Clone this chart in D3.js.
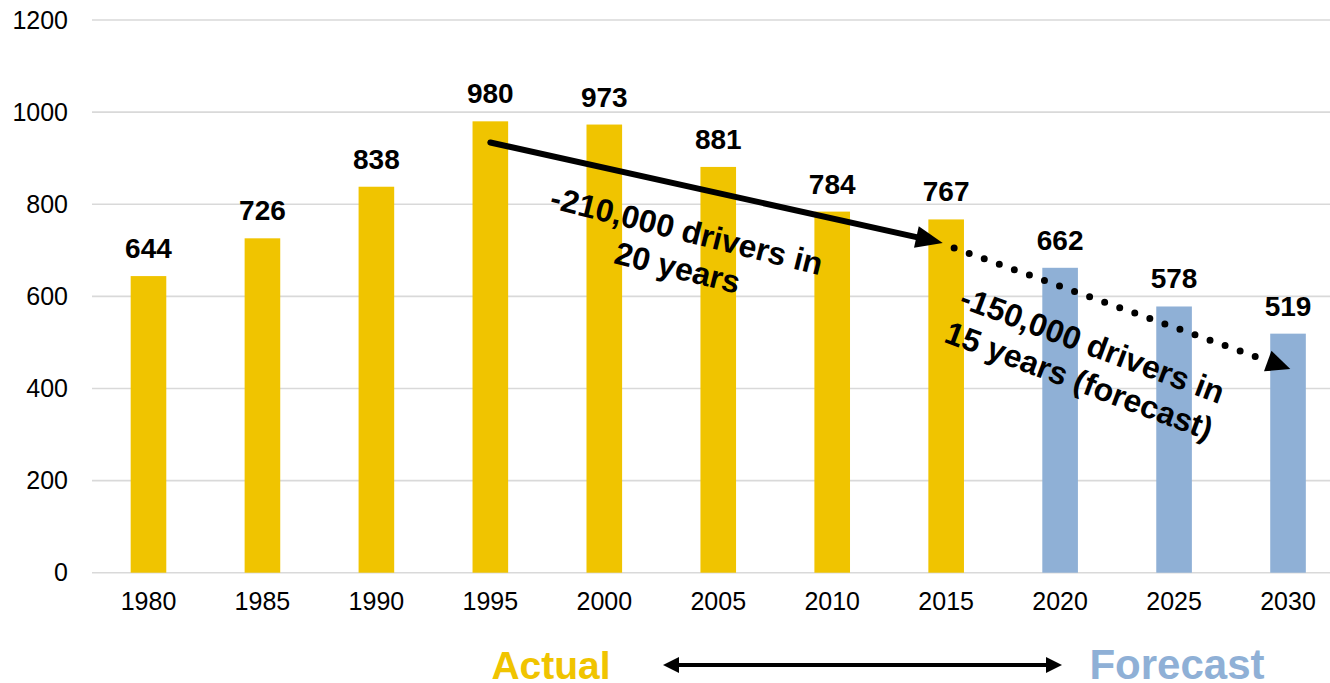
<!DOCTYPE html>
<html>
<head>
<meta charset="utf-8">
<script src="https://cdn.jsdelivr.net/npm/d3@7"></script>
<style>
  html, body { margin: 0; padding: 0; background: #fff; }
  svg { display: block; }
  text { font-family: "Liberation Sans", Arial, sans-serif; }
</style>
</head>
<body>
<svg id="chart" width="1330" height="683"></svg>
<script>
// Licensed truck drivers (thousands), actual and forecast
const years    = ["1980", "1985", "1990", "1995", "2000", "2005", "2010", "2015", "2020", "2025", "2030"];
const drivers  = [644, 726, 838, 980, 973, 881, 784, 767, 662, 578, 519];
const isForecast = [false, false, false, false, false, false, false, false, true, true, true];
const yTicks   = [0, 200, 400, 600, 800, 1000, 1200];

// Trend annotations: [year, value] endpoints
const actualTrend   = [[1995.0, 934], [2014.85, 716]];
const forecastTrend = [[2015.35, 705], [2030.1, 442]];
const actualNote    = ["-210,000 drivers in", "20 years"];
const forecastNote  = ["-150,000 drivers in", "15 years (forecast)"];

const COLOR_ACTUAL = "#F0C400";
const COLOR_FORECAST = "#8FB0D6";

const svg = d3.select("#chart");

const x = d3.scaleBand().domain(years).range([91.5, 1345]).paddingInner(0.6875).paddingOuter(0.34375);
const y = d3.scaleLinear().domain([0, 1200]).range([572.7, 20]);
const yearX = d3.scaleLinear()
  .domain([+years[0], +years[years.length - 1]])
  .range([x(years[0]) + x.bandwidth() / 2, x(years[years.length - 1]) + x.bandwidth() / 2]);

// Gridlines (including the baseline)
svg.append("g").selectAll("line").data(yTicks).join("line")
  .attr("x1", 92).attr("x2", 1345)
  .attr("y1", d => y(d)).attr("y2", d => y(d))
  .attr("stroke", "#d9d9d9").attr("stroke-width", 1.6);

// Y axis labels
const yAxis = d3.axisLeft(y).tickValues(yTicks).tickFormat(d3.format("d")).tickSize(0).tickPadding(0);
svg.append("g").attr("transform", "translate(68,0)").call(yAxis)
  .call(g => g.select(".domain").remove())
  .selectAll("text")
  .attr("font-size", 25).attr("fill", "#000")
  .attr("font-family", "Liberation Sans, Arial, sans-serif");

// X axis labels
const xAxis = d3.axisBottom(x).tickSize(0).tickPadding(0);
svg.append("g").attr("transform", "translate(0,592)").call(xAxis)
  .call(g => g.select(".domain").remove())
  .selectAll("text")
  .attr("font-size", 25).attr("fill", "#000").attr("dy", "0.71em")
  .attr("font-family", "Liberation Sans, Arial, sans-serif");

// Bars
const rows = years.map((yr, i) => ({ yr, v: drivers[i], f: isForecast[i] }));
svg.append("g").selectAll("rect").data(rows).join("rect")
  .attr("x", d => x(d.yr)).attr("width", x.bandwidth())
  .attr("y", d => y(d.v)).attr("height", d => y(0) - y(d.v))
  .attr("fill", d => d.f ? COLOR_FORECAST : COLOR_ACTUAL);

// Value labels
svg.append("g").selectAll("text").data(rows).join("text")
  .attr("x", d => x(d.yr) + x.bandwidth() / 2)
  .attr("y", d => y(d.v) - 18)
  .attr("text-anchor", "middle")
  .attr("font-size", 28).attr("font-weight", "bold").attr("fill", "#000")
  .text(d => d.v);

const pt = ([yr, v]) => [yearX(yr), y(v)];

function arrowHead(g, tip, angle, len, halfW) {
  const c = Math.cos(angle), s = Math.sin(angle);
  const bx = tip[0] - len * c, by = tip[1] - len * s;
  g.append("path")
    .attr("d", `M${tip[0]},${tip[1]} L${bx - halfW * s},${by + halfW * c} L${bx + halfW * s},${by - halfW * c} Z`)
    .attr("fill", "#000");
}

// Solid trend arrow (actual period)
{
  const g = svg.append("g");
  const [a, b] = actualTrend.map(pt);
  const ang = Math.atan2(b[1] - a[1], b[0] - a[0]);
  const stop = [b[0] - 20 * Math.cos(ang), b[1] - 20 * Math.sin(ang)];
  g.append("line")
    .attr("x1", a[0]).attr("y1", a[1]).attr("x2", stop[0]).attr("y2", stop[1])
    .attr("stroke", "#000").attr("stroke-width", 6).attr("stroke-linecap", "round");
  arrowHead(g, b, ang, 27, 11);
}

// Dotted trend arrow (forecast period)
{
  const g = svg.append("g");
  const [a, b] = forecastTrend.map(pt);
  const ang = Math.atan2(b[1] - a[1], b[0] - a[0]);
  const stop = [b[0] - 34 * Math.cos(ang), b[1] - 34 * Math.sin(ang)];
  g.append("line")
    .attr("x1", a[0]).attr("y1", a[1]).attr("x2", stop[0]).attr("y2", stop[1])
    .attr("stroke", "#000").attr("stroke-width", 7).attr("stroke-linecap", "round")
    .attr("stroke-dasharray", "0 16");
  arrowHead(g, b, ang, 24, 11);
}

// Rotated annotation text
function note(lines, cx, cy, deg, lineGap) {
  const g = svg.append("g").attr("transform", `translate(${cx},${cy}) rotate(${deg})`);
  g.selectAll("text").data(lines).join("text")
    .attr("x", 0).attr("y", (d, i) => i * lineGap)
    .attr("text-anchor", "middle")
    .attr("font-size", 32).attr("font-weight", "bold").attr("fill", "#000")
    .text(d => d);
}
note(actualNote, yearX(2003.5), y(719), 14, 38);
note(forecastNote, yearX(2021.25), y(472), 20.5, 38);

// Period legend
svg.append("text").attr("x", 551).attr("y", 679).attr("text-anchor", "middle")
  .attr("font-size", 39).attr("font-weight", "bold").attr("fill", COLOR_ACTUAL).text("Actual");
svg.append("text").attr("x", 1177).attr("y", 679).attr("text-anchor", "middle")
  .attr("font-size", 42).attr("font-weight", "bold").attr("fill", COLOR_FORECAST).text("Forecast");
{
  const g = svg.append("g");
  const yA = 665, xL = 663, xR = 1062;
  g.append("line").attr("x1", xL + 12).attr("x2", xR - 12).attr("y1", yA).attr("y2", yA)
    .attr("stroke", "#000").attr("stroke-width", 4);
  arrowHead(g, [xL, yA], Math.PI, 16, 8);
  arrowHead(g, [xR, yA], 0, 16, 8);
}
</script>
</body>
</html>
